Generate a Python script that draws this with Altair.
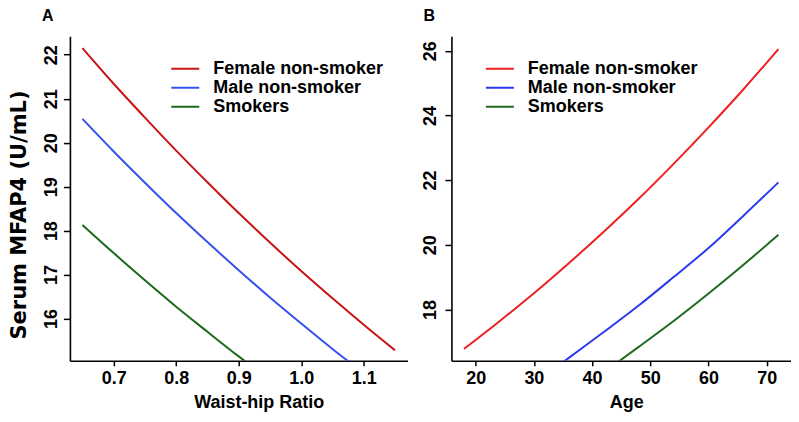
import altair as alt
import pandas as pd

groups = ["Female non-smoker", "Male non-smoker", "Smokers"]

# Panel A: waist-hip ratio
whr_female_x = [0.65, 0.70, 0.75, 0.80, 0.85, 0.90, 0.95, 1.00, 1.05, 1.10, 1.15]
whr_female_y = [22.15, 21.34, 20.57, 19.82, 19.10, 18.40, 17.73, 17.08, 16.46, 15.86, 15.28]
whr_male_x = [0.65, 0.70, 0.75, 0.80, 0.85, 0.90, 0.95, 1.00, 1.05, 1.10]
whr_male_y = [20.54, 19.80, 19.09, 18.40, 17.74, 17.10, 16.48, 15.89, 15.31, 14.76]
whr_smoker_x = [0.65, 0.70, 0.75, 0.80, 0.85, 0.90, 0.95]
whr_smoker_y = [18.13, 17.49, 16.87, 16.27, 15.70, 15.14, 14.61]

# Panel B: age
age_female_x = [18, 24, 30, 36, 42, 48, 54, 60, 66, 72]
age_female_y = [16.78, 17.62, 18.50, 19.43, 20.40, 21.42, 22.50, 23.63, 24.81, 26.05]
age_male_x = [30, 36, 42, 48, 54, 60, 66, 72]
age_male_y = [15.70, 16.50, 17.30, 18.12, 19.00, 19.90, 20.90, 21.93]
age_smoker_x = [42, 48, 54, 60, 66, 72]
age_smoker_y = [16.05, 16.84, 17.64, 18.49, 19.38, 20.31]

colors_a = ["#C81414", "#3652EC", "#1B6B1B"]
colors_b = ["#EE2020", "#2A3CF0", "#1E6A1E"]

ticks_a_x = [0.7, 0.8, 0.9, 1.0, 1.1]
ticks_a_y = [16, 17, 18, 19, 20, 21, 22]
ticks_b_x = [20, 30, 40, 50, 60, 70]
ticks_b_y = [18, 20, 22, 24, 26]


def frame(xs_list, ys_list):
    rows = []
    for g, xs, ys in zip(groups, xs_list, ys_list):
        for i, (x, y) in enumerate(zip(xs, ys)):
            rows.append({"x": x, "y": y, "group": g, "order": i})
    return pd.DataFrame(rows)


df_a = frame([whr_female_x, whr_male_x, whr_smoker_x], [whr_female_y, whr_male_y, whr_smoker_y])
df_b = frame([age_female_x, age_male_x, age_smoker_x], [age_female_y, age_male_y, age_smoker_y])

FONT = "Liberation Sans"


def legend(x):
    return alt.Legend(
        title=None, orient="none", legendX=x, legendY=23,
        symbolType="stroke", symbolSize=784, symbolStrokeWidth=2,
        labelFontSize=18, labelFont=FONT, labelFontWeight="bold",
        labelColor="black", labelOffset=13, clipHeight=19, rowPadding=0,
        padding=0, labelLimit=400,
    )


def panel(df, colors, xdom, ydom, xticks, yticks, xfmt, xtitle, ytitle,
          title, legx, titlex, ypad, width, height):
    yaxis_kwargs = dict(
        values=yticks, format="d", labelAngle=270, labelAlign="center",
        labelBaseline="alphabetic", labelPadding=ypad, tickSize=6.5,
    )
    if ytitle:
        yaxis_kwargs.update(
            title=ytitle, titleAngle=270, titleX=-50.5, titleY=178.5,
            titleAlign="center", titleBaseline="middle",
            titleFont="DejaVu Sans", titleFontSize=21,
        )
    else:
        yaxis_kwargs.update(title=None)
    return alt.Chart(df).mark_line(strokeWidth=2, clip=True, interpolate="monotone").encode(
        x=alt.X("x:Q", scale=alt.Scale(domain=xdom, nice=False, zero=False),
                axis=alt.Axis(values=xticks, format=xfmt, title=xtitle,
                              labelPadding=4, tickSize=5, titleX=titlex,
                              titlePadding=6)),
        y=alt.Y("y:Q", scale=alt.Scale(domain=ydom, nice=False, zero=False),
                axis=alt.Axis(**yaxis_kwargs)),
        color=alt.Color("group:N", scale=alt.Scale(domain=groups, range=colors),
                        legend=legend(legx)),
        detail="group:N",
        order="order:Q",
    ).properties(
        width=width, height=height,
        title=alt.TitleParams(title, anchor="start", frame="group", dx=-28,
                              fontSize=16, font=FONT, fontWeight="bold",
                              offset=12, color="black"),
    )


pa = panel(df_a, colors_a, [0.63, 1.17], [15.04, 22.42], ticks_a_x, ticks_a_y,
           ".1f", "Waist-hip Ratio", "Serum MFAP4 (U/mL)", "A", 100.5, 189, 7, 338, 325)
pb = panel(df_b, colors_b, [15.84, 74.16], [16.41, 26.45], ticks_b_x, ticks_b_y,
           "d", "Age", None, "B", 33.5, 175, 9, 340, 325)

chart = alt.hconcat(pa, pb, spacing=14).resolve_scale(color="independent").configure_axis(
    grid=False, domainColor="black", domainWidth=1.6, tickColor="black",
    tickWidth=1.5, labelFont=FONT, labelFontSize=18, labelFontWeight="bold",
    labelColor="black", titleFont=FONT, titleFontSize=18, titleFontWeight="bold",
    titleColor="black",
).configure_view(stroke=None).properties(
    padding={"left": 0, "right": 0, "top": 0, "bottom": 0}, background="white"
)

chart.save("out.html", embed_options={"renderer": "svg", "actions": False})
